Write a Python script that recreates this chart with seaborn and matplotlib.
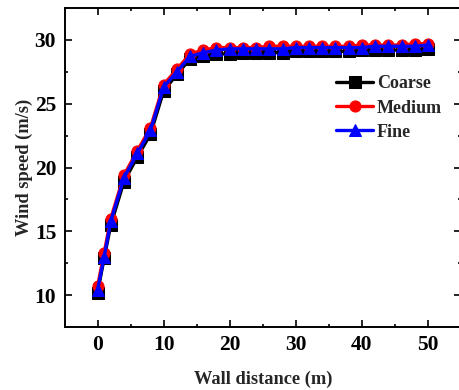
import numpy as np
import pandas as pd
import matplotlib
matplotlib.use("Agg")
import matplotlib.pyplot as plt
import seaborn as sns
from matplotlib.ticker import MultipleLocator

sns.set_theme(style="ticks")
plt.rcParams['font.family'] = ['Liberation Serif', 'DejaVu Serif']
plt.rcParams['font.weight'] = 'bold'

distance = [0, 1, 2, 4, 6, 8, 10, 12, 14, 16, 18, 20, 22, 24, 26, 28, 30,
            32, 34, 36, 38, 40, 42, 44, 46, 48, 50]
coarse = [10.2, 12.9, 15.5, 18.9, 20.8, 22.6, 26.0, 27.3, 28.5, 28.7, 28.9,
          28.9, 29.0, 29.0, 29.0, 29.0, 29.1, 29.1, 29.1, 29.1, 29.1, 29.2,
          29.2, 29.2, 29.2, 29.2, 29.3]
medium = [10.7, 13.3, 16.0, 19.4, 21.3, 23.1, 26.5, 27.7, 28.9, 29.2, 29.4,
          29.4, 29.4, 29.4, 29.5, 29.5, 29.5, 29.5, 29.5, 29.5, 29.5, 29.6,
          29.6, 29.6, 29.6, 29.7, 29.7]
fine = [10.4, 13.0, 15.8, 19.2, 21.1, 22.9, 26.3, 27.5, 28.7, 29.0, 29.2,
        29.3, 29.3, 29.3, 29.3, 29.3, 29.4, 29.4, 29.4, 29.4, 29.4, 29.4,
        29.5, 29.5, 29.5, 29.5, 29.6]
series_names = ["Coarse", "Medium", "Fine"]
colors = ["black", "red", "blue"]
markers = ["s", "o", "^"]

df = pd.DataFrame({
    "distance": distance * 3,
    "speed": coarse + medium + fine,
    "mesh": sum([[n] * len(distance) for n in series_names], []),
})

fig = plt.figure(figsize=(4.59, 3.90), dpi=100)
ax = fig.add_axes([64.5 / 459, (390 - 327) / 390, (461 - 64.5) / 459, (327 - 8) / 390])

for name, c, m in zip(series_names, colors, markers):
    sub = df[df["mesh"] == name]
    sns.lineplot(data=sub, x="distance", y="speed", ax=ax, color=c, marker=m,
                 markersize=8, markeredgecolor=c, linewidth=2.4, label=name)

ax.set_xlim(-5, 55)
ax.set_ylim(7.5, 32.5)
ax.xaxis.set_major_locator(MultipleLocator(10))
ax.xaxis.set_minor_locator(MultipleLocator(5))
ax.yaxis.set_major_locator(MultipleLocator(5))
ax.yaxis.set_minor_locator(MultipleLocator(2.5))
ax.tick_params(which="both", direction="in", top=True, right=True, width=1.2,
               labelsize=15.5, colors="black")
ax.tick_params(which="major", length=5, pad=6)
ax.tick_params(which="minor", length=2.5)
for lab in ax.get_xticklabels() + ax.get_yticklabels():
    lab.set_fontweight("bold")
for s in ax.spines.values():
    s.set_linewidth(1.4)
    s.set_color("black")

ax.set_xlabel("Wall distance (m)", fontsize=13.2, fontweight="bold", labelpad=11)
ax.set_ylabel("Wind speed (m/s)", fontsize=13.2, fontweight="bold", labelpad=1)

leg = ax.legend(loc="upper left", bbox_to_anchor=(0.645, 0.84), frameon=False,
                handlelength=2.0, handletextpad=0.25, labelspacing=0.4,
                prop={"weight": "bold", "size": 13})

fig.savefig("out.png", dpi=100)
